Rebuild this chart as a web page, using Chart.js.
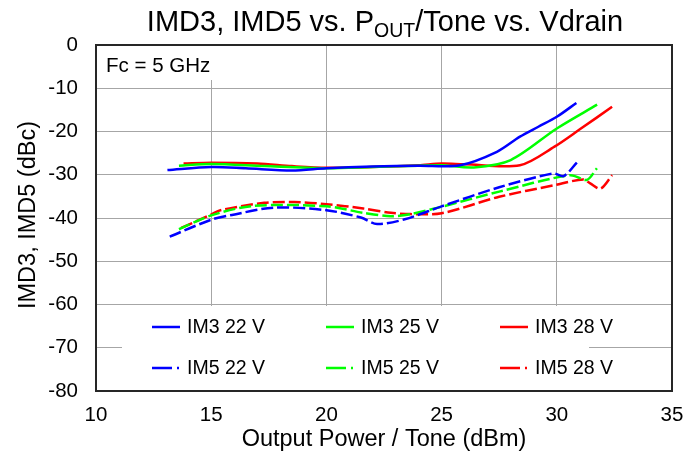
<!DOCTYPE html>
<html lang="en">
<head>
<meta charset="UTF-8">
<title>IMD3, IMD5 vs. POUT/Tone vs. Vdrain</title>
<script src="https://cdn.jsdelivr.net/npm/chart.js"></script>
<style>
    * { margin: 0; padding: 0; box-sizing: border-box; }
    body { background: #fff; }
    #wrap { width: 684px; height: 457px; }
</style>
</head>
<body>
<div id="wrap"><canvas id="imdChart" width="684" height="457"></canvas></div>
<script>
    // tick labels
    const xTickValues = [10, 15, 20, 25, 30, 35];
    const yTickValues = [0, -10, -20, -30, -40, -50, -60, -70, -80];

    // series names (legend order: 3 columns x 2 rows)
    const seriesNames = ["IM3 22 V", "IM3 25 V", "IM3 28 V", "IM5 22 V", "IM5 25 V", "IM5 28 V"];
    const seriesColors = ["#0000FF", "#00FF00", "#FF0000", "#0000FF", "#00FF00", "#FF0000"];

    // Output power (dBm) / level (dBc)
    const im3x22 = [13.1, 15, 16.5, 18.5, 20, 22, 24, 25.8, 27.4, 28.4, 29.2, 30, 30.85];
    const im3y22 = [-28.9, -28.2, -28.5, -29.0, -28.5, -28.1, -27.9, -27.8, -24.7, -21.2, -18.9, -16.6, -13.4];

    const im3x25 = [13.6, 15, 17.3, 20, 22, 24, 25, 26.4, 28.0, 30, 31.75];
    const im3y25 = [-27.9, -27.5, -28.0, -28.5, -28.2, -27.9, -27.8, -28.3, -26.6, -19.3, -13.8];

    const im3x28 = [13.8, 15, 17, 18.5, 20, 22, 24, 25, 26, 28.4, 29.9, 31, 32.4];
    const im3y28 = [-27.4, -27.2, -27.4, -28.0, -28.4, -28.2, -27.8, -27.4, -27.6, -27.8, -23.5, -19.5, -14.3];

    const im5x22 = [13.2, 15, 15.9, 17.7, 20, 21.5, 22.2, 23.4, 25, 27.5, 29.85, 30.3, 30.87];
    const im5y22 = [-44.3, -40.4, -39.3, -37.6, -38.2, -39.9, -41.4, -40.3, -37.3, -32.9, -29.7, -30.3, -27.2];

    const im5x25 = [13.6, 15, 16.85, 20, 21.6, 22.8, 23.65, 25, 27.5, 30.58, 31.3, 31.74];
    const im5y25 = [-42.6, -39.4, -37.2, -37.3, -38.8, -39.6, -39.1, -37.4, -33.9, -30.1, -31.2, -28.5];

    const im5x28 = [13.7, 15, 15.4, 17.3, 18.6, 20, 21.6, 22.8, 23.65, 25, 27.5, 29.9, 31.15, 31.45, 31.9, 32.4];
    const im5y28 = [-42.3, -39.2, -38.2, -36.5, -36.3, -36.8, -37.8, -38.8, -39.1, -38.9, -35.1, -32.4, -31.1, -32.0, -33.2, -30.1];

    const FONT = '"Liberation Sans", Arial, sans-serif';

    function pts(xs, ys) {
        return xs.map((x, i) => ({ x: x, y: ys[i] }));
    }

    const seriesData = [
        pts(im3x22, im3y22), pts(im3x25, im3y25), pts(im3x28, im3y28),
        pts(im5x22, im5y22), pts(im5x25, im5y25), pts(im5x28, im5y28)
    ];

    const datasets = seriesNames.map((name, i) => ({
        label: name,
        data: seriesData[i],
        borderColor: seriesColors[i],
        backgroundColor: seriesColors[i],
        borderWidth: 2.5,
        borderDash: i >= 3 ? [12, 4] : [],
        pointRadius: 0,
        tension: 0.3,
        fill: false
    }));

    // titles, note box, legend box and plot frame
    const decorations = {
        id: 'decorations',
        beforeDatasetsDraw(chart) {
            const ctx = chart.ctx;
            const a = chart.chartArea;
            ctx.save();
            // Fc box
            ctx.fillStyle = '#fff';
            ctx.fillRect(a.left + 1, a.top + 1, 128, 34);
            ctx.fillStyle = '#000';
            ctx.font = '20.5px ' + FONT;
            ctx.textBaseline = 'middle';
            ctx.textAlign = 'left';
            ctx.fillText('Fc = 5 GHz', a.left + 10, a.top + 21);

            // legend box
            ctx.fillStyle = '#fff';
            ctx.fillRect(122, 306, 467, a.bottom - 307);
            chart.data.datasets.forEach((ds, i) => {
                const col = i % 3, row = Math.floor(i / 3);
                const x0 = 152 + col * 174;
                const y0 = 327 + row * 41;
                ctx.strokeStyle = ds.borderColor;
                ctx.lineWidth = 2.5;
                ctx.setLineDash([]);
                ctx.beginPath();
                if (i < 3) {
                    ctx.moveTo(x0, y0);
                    ctx.lineTo(x0 + 28, y0);
                } else {
                    ctx.moveTo(x0, y0);
                    ctx.lineTo(x0 + 20, y0);
                    ctx.moveTo(x0 + 25, y0);
                    ctx.lineTo(x0 + 27, y0);
                }
                ctx.stroke();
                ctx.fillStyle = '#000';
                ctx.font = '19.5px ' + FONT;
                ctx.textBaseline = 'middle';
                ctx.fillText(ds.label, x0 + 35, y0 + 1);
            });
            ctx.restore();
        },
        afterDraw(chart) {
            const ctx = chart.ctx;
            const a = chart.chartArea;
            ctx.save();
            // frame
            ctx.strokeStyle = '#262626';
            ctx.lineWidth = 2;
            ctx.strokeRect(a.left, a.top, a.right - a.left, a.bottom - a.top);

            // chart title with subscript
            const parts = [
                { t: 'IMD3, IMD5 vs. P', f: '29px ' + FONT, dy: 0 },
                { t: 'OUT', f: '19.5px ' + FONT, dy: 6 },
                { t: '/Tone vs. Vdrain', f: '29px ' + FONT, dy: 0 }
            ];
            let w = 0;
            parts.forEach(p => { ctx.font = p.f; p.w = ctx.measureText(p.t).width; w += p.w; });
            let x = 385 - w / 2;
            ctx.fillStyle = '#000';
            ctx.textAlign = 'left';
            ctx.textBaseline = 'alphabetic';
            parts.forEach(p => {
                ctx.font = p.f;
                ctx.fillText(p.t, x, 31 + p.dy);
                x += p.w;
            });

            // axis titles
            ctx.font = '23.5px ' + FONT;
            ctx.textAlign = 'center';
            ctx.textBaseline = 'middle';
            ctx.fillText('Output Power / Tone (dBm)', (a.left + a.right) / 2, 440);
            ctx.translate(29, 215);
            ctx.rotate(-Math.PI / 2);
            ctx.fillText('IMD3, IMD5 (dBc)', 0, 0);
            ctx.restore();
        }
    };

    new Chart(document.getElementById('imdChart'), {
        type: 'line',
        data: { datasets: datasets },
        options: {
            responsive: false,
            animation: false,
            layout: { padding: { left: 0, top: 45, right: 12, bottom: 0 } },
            plugins: {
                legend: { display: false },
                title: { display: false },
                tooltip: { enabled: false }
            },
            scales: {
                x: {
                    type: 'linear',
                    min: 10,
                    max: 35,
                    afterBuildTicks: s => { s.ticks = xTickValues.map(v => ({ value: v })); },
                    afterFit: s => { s.height = 66; s.paddingLeft = 0; s.paddingRight = 0; },
                    grid: { color: '#a6a6a6', lineWidth: 1, drawTicks: false },
                    border: { display: false },
                    ticks: { color: '#000', font: { family: FONT, size: 20.5 }, padding: 12, maxRotation: 0 }
                },
                y: {
                    type: 'linear',
                    min: -80,
                    max: 0,
                    afterBuildTicks: s => { s.ticks = yTickValues.map(v => ({ value: v })); },
                    afterFit: s => { s.width = 96; s.paddingTop = 0; s.paddingBottom = 0; },
                    grid: { color: '#a6a6a6', lineWidth: 1, drawTicks: false },
                    border: { display: false },
                    ticks: { color: '#000', font: { family: FONT, size: 20.5 }, padding: 18 }
                }
            }
        },
        plugins: [decorations]
    });
</script>
</body>
</html>
